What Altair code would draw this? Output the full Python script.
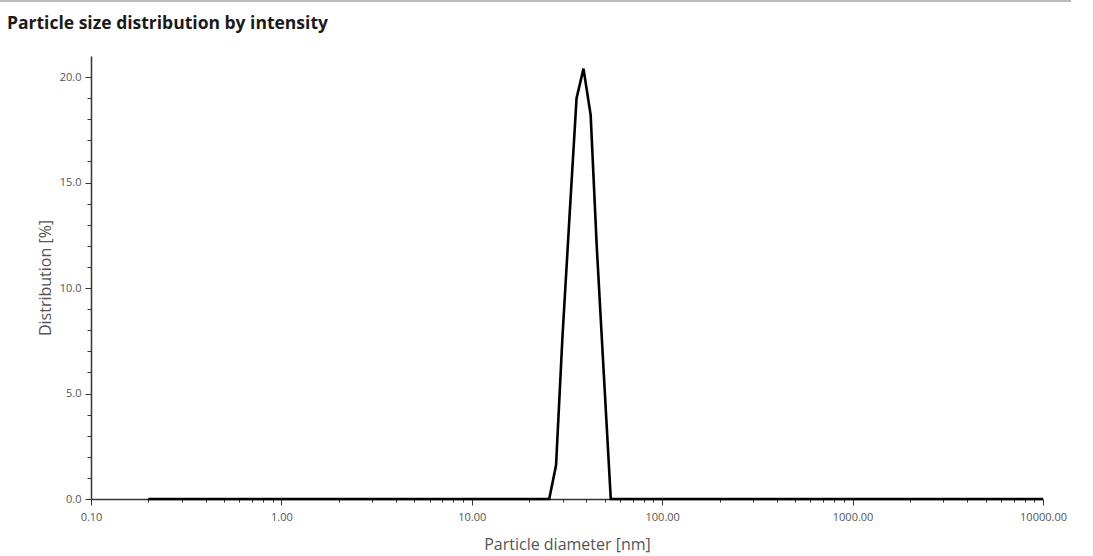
import altair as alt
import pandas as pd

# Data
diameter_nm = [0.2, 1.0, 10.0, 25.5, 27.7, 29.9, 32.6, 35.5, 38.6, 42.1, 45.3, 49.3, 53.7, 100.0, 1000.0, 10000.0]
distribution = [0.0, 0.0, 0.0, 0.0, 1.6, 7.6, 13.4, 19.0, 20.4, 18.2, 12.0, 6.0, 0.0, 0.0, 0.0, 0.0]

x_major = [0.1, 1, 10, 100, 1000, 10000]
x_ticks = [m * k for m in [0.1, 1, 10, 100, 1000] for k in range(1, 10)] + [10000]
y_ticks = list(range(0, 21))

title_text = "Particle size distribution by intensity"

df = pd.DataFrame({"d": diameter_nm, "p": distribution})

FONT = "Open Sans"
LABEL_COLOR = "#555555"
AXIS_COLOR = "#333333"
IS_DECADE = "abs(log(datum.value)/LN10 - round(log(datum.value)/LN10)) < 1e-6"

x_axis = alt.Axis(
    values=x_ticks,
    labelExpr=IS_DECADE + " ? format(datum.value, '.2f') : ''",
    tickSize={"condition": {"test": IS_DECADE, "value": 6}, "value": 3},
    grid=False,
    domainColor=AXIS_COLOR,
    domainWidth=1.5,
    tickColor=AXIS_COLOR,
    tickWidth=1,
    labelColor=LABEL_COLOR,
    labelFont=FONT,
    labelFontSize=11,
    labelPadding=6,
    labelFlush=False,
    title="Particle diameter [nm]",
    titleFont=FONT,
    titleFontSize=16,
    titleFontWeight="normal",
    titleColor=LABEL_COLOR,
    titlePadding=14,
)

y_axis = alt.Axis(
    values=y_ticks,
    labelExpr="datum.value % 5 == 0 ? format(datum.value, '.1f') : ''",
    tickSize={"condition": {"test": "datum.value % 5 == 0", "value": 6}, "value": 4},
    grid=False,
    domainColor=AXIS_COLOR,
    domainWidth=1.5,
    tickColor=AXIS_COLOR,
    tickWidth=1,
    labelColor=LABEL_COLOR,
    labelFont=FONT,
    labelFontSize=11,
    labelPadding=4,
    labelFlush=False,
    title="Distribution [%]",
    titleFont=FONT,
    titleFontSize=16,
    titleFontWeight="normal",
    titleColor=LABEL_COLOR,
    titlePadding=6,
)

line = alt.Chart(df).mark_line(color="black", strokeWidth=2.6, clip=False).encode(
    x=alt.X("d:Q", scale=alt.Scale(type="log", domain=[0.1, 10000], nice=False), axis=x_axis),
    y=alt.Y("p:Q", scale=alt.Scale(domain=[0, 21], nice=False, zero=True), axis=y_axis),
)

top_rule = alt.Chart(pd.DataFrame({"a": [0]})).mark_rule(color="#bbbbbb", strokeWidth=2).encode(
    x=alt.value(-91), x2=alt.value(980), y=alt.value(-55)
)

title = alt.Chart(pd.DataFrame({"t": [title_text]})).mark_text(
    align="left", baseline="alphabetic", font=FONT, fontSize=17.5, fontWeight="bold", color="#1a1a1a"
).encode(x=alt.value(-84), y=alt.value(-27), text="t:N")

chart = (
    alt.layer(top_rule, title, line)
    .properties(
        width=952,
        height=443,
        autosize=alt.AutoSizeParams(type="none"),
        padding={"left": 91, "top": 56, "right": 50, "bottom": 57},
        background="white",
    )
    .configure_view(strokeWidth=0, stroke=None)
)

chart.save("out.html", embed_options={"renderer": "svg", "actions": False})
